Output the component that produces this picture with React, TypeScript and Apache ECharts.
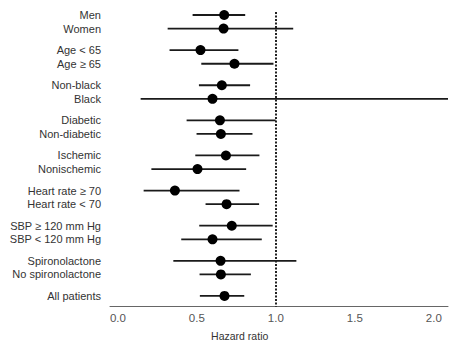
import React, { useEffect, useRef } from "react";
import * as echarts from "echarts";

const labels = [
  "Men", "Women",
  "Age < 65", "Age \u2265 65",
  "Non-black", "Black",
  "Diabetic", "Non-diabetic",
  "Ischemic", "Nonischemic",
  "Heart rate \u2265 70", "Heart rate < 70",
  "SBP \u2265 120 mm Hg", "SBP < 120 mm Hg",
  "Spironolactone", "No spironolactone",
  "All patients",
];
const estimates = [0.673, 0.669, 0.523, 0.738, 0.658, 0.599, 0.646, 0.652, 0.684, 0.504, 0.361, 0.688, 0.721, 0.599, 0.65, 0.652, 0.675];
const lowers = [0.473, 0.315, 0.327, 0.528, 0.513, 0.144, 0.435, 0.498, 0.49, 0.212, 0.163, 0.555, 0.515, 0.401, 0.351, 0.517, 0.519];
const uppers = [0.806, 1.11, 0.763, 0.985, 0.837, 2.09, 0.999, 0.852, 0.896, 0.812, 0.77, 0.894, 0.98, 0.911, 1.13, 0.842, 0.8];
const groupOf = [0, 0, 1, 1, 2, 2, 3, 3, 4, 4, 5, 5, 6, 6, 7, 7, 8];
const tickValues = [0, 0.5, 1, 1.5, 2];
const axisTitle = "Hazard ratio";

const FONT = "'Liberation Sans', Arial, sans-serif";
const GROUP_PITCH = 2.58;

export default function App() {
  const ref = useRef<HTMLDivElement>(null);
  useEffect(() => {
    if (!ref.current) return;
    const chart = echarts.init(ref.current, undefined, { renderer: "svg" });
    const positions = groupOf.map((g, i) => {
      const firstInGroup = groupOf.indexOf(g);
      return g * GROUP_PITCH + (i - firstInGroup);
    });
    const ciData = labels.map((_, i) => [lowers[i], uppers[i], positions[i], i]);
    const ptData = labels.map((_, i) => [estimates[i], positions[i]]);

    chart.setOption({
      animation: false,
      backgroundColor: "#fff",
      grid: { left: 110, right: 9, top: 12, bottom: 51.3, containLabel: false },
      xAxis: {
        type: "value",
        min: -0.05,
        max: 2.09,
        axisLine: { show: true, onZero: false, lineStyle: { color: "#666", width: 1 } },
        axisTick: { show: false },
        splitLine: { show: false },
        axisLabel: {
          customValues: tickValues,
          formatter: (v: number) => v.toFixed(1),
          color: "#555",
          fontSize: 11.5,
          fontFamily: FONT,
          margin: 5,
        },
      },
      yAxis: {
        type: "value",
        inverse: true,
        min: -0.22,
        max: 21.43,
        show: false,
      },
      graphic: [
        {
          type: "text",
          x: 239.7,
          y: 336,
          style: {
            text: axisTitle,
            x: 0,
            y: 0,
            textAlign: "center",
            textVerticalAlign: "middle",
            fontSize: 10.5,
            fontFamily: FONT,
            fill: "#333",
          },
        },
      ],
      series: [
        {
          type: "custom",
          data: ciData,
          renderItem: (params: any, api: any) => {
            const lo = api.coord([api.value(0), api.value(2)]);
            const hi = api.coord([api.value(1), api.value(2)]);
            const idx = api.value(3);
            const left = params.coordSys.x;
            return {
              type: "group",
              children: [
                {
                  type: "line",
                  shape: { x1: lo[0], y1: lo[1], x2: hi[0], y2: hi[1] },
                  style: { stroke: "#1a1a1a", lineWidth: 1.8 },
                },
                {
                  type: "text",
                  style: {
                    text: labels[idx],
                    x: left - 9,
                    y: lo[1],
                    textAlign: "right",
                    textVerticalAlign: "middle",
                    fontSize: 11,
                    fontFamily: FONT,
                    fill: "#333",
                  },
                },
              ],
            };
          },
          z: 2,
        },
        {
          type: "scatter",
          data: ptData,
          symbol: "circle",
          symbolSize: 10,
          itemStyle: { color: "#000", opacity: 1 },
          z: 3,
          markLine: {
            silent: true,
            symbol: ["none", "none"],
            label: { show: false },
            lineStyle: { color: "#222", width: 2, type: [2, 1.5] },
            data: [{ xAxis: 1 }],
          },
        },
      ],
    });
    return () => chart.dispose();
  }, []);
  return (
    <div
      ref={ref}
      style={{ position: "fixed", left: 0, top: 0, width: 457, height: 358 }}
    />
  );
}
